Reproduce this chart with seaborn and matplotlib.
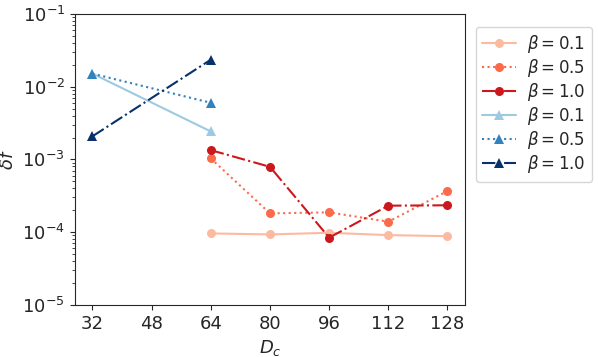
import matplotlib
matplotlib.use('Agg')
import matplotlib.pyplot as plt
import seaborn as sns
import numpy as np
import pandas as pd

# bond dimensions
dc_red = [64, 80, 96, 112, 128]
dc_blue = [32, 64]

# delta f values
red_01 = [9.6e-5, 9.3e-5, 9.8e-5, 9.1e-5, 8.8e-5]
red_05 = [1.03e-3, 1.81e-4, 1.87e-4, 1.39e-4, 3.68e-4]
red_10 = [1.34e-3, 7.9e-4, 8.4e-5, 2.31e-4, 2.34e-4]
blue_01 = [1.51e-2, 2.42e-3]
blue_05 = [1.51e-2, 6.0e-3]
blue_10 = [2.08e-3, 2.35e-2]

betas = ['0.1', '0.5', '1.0']

sns.set_style('ticks')
plt.rcParams['font.family'] = ['DejaVu Sans']
plt.rcParams['font.size'] = 13

fig = plt.figure(figsize=(5.98, 3.57), dpi=100)
ax = fig.add_axes([0.125, 0.146, 0.653, 0.815])

reds = ['#fcbba1', '#fb6a4a', '#cb181d']
blues = ['#9ecae1', '#3182bd', '#08306b']
styles = ['-', ':', '-.']

for vals, c, ls, b in zip([red_01, red_05, red_10], reds, styles, betas):
    df = pd.DataFrame({'Dc': dc_red, 'df': vals})
    sns.lineplot(data=df, x='Dc', y='df', ax=ax, color=c, linestyle=ls,
                 marker='o', markersize=6.5, markeredgewidth=0,
                 label=r'$\beta = %s$' % b)

for vals, c, ls, b in zip([blue_01, blue_05, blue_10], blues, styles, betas):
    df = pd.DataFrame({'Dc': dc_blue, 'df': vals})
    sns.lineplot(data=df, x='Dc', y='df', ax=ax, color=c, linestyle=ls,
                 marker='^', markersize=7, markeredgewidth=0,
                 label=r'$\beta = %s$' % b)

ax.set_yscale('log')
ax.set_ylim(1e-5, 1e-1)
ax.set_xlim(27.2, 132.8)
ax.set_xticks([32, 48, 64, 80, 96, 112, 128])
ax.set_xlabel(r'$D_c$')
ax.set_ylabel(r'$\delta f$')
ax.legend(loc='upper left', bbox_to_anchor=(1.005, 0.985), fontsize=12,
          handlelength=2.0, labelspacing=0.12, borderpad=0.4,
          handletextpad=0.7)

fig.savefig('out.png', dpi=100)
